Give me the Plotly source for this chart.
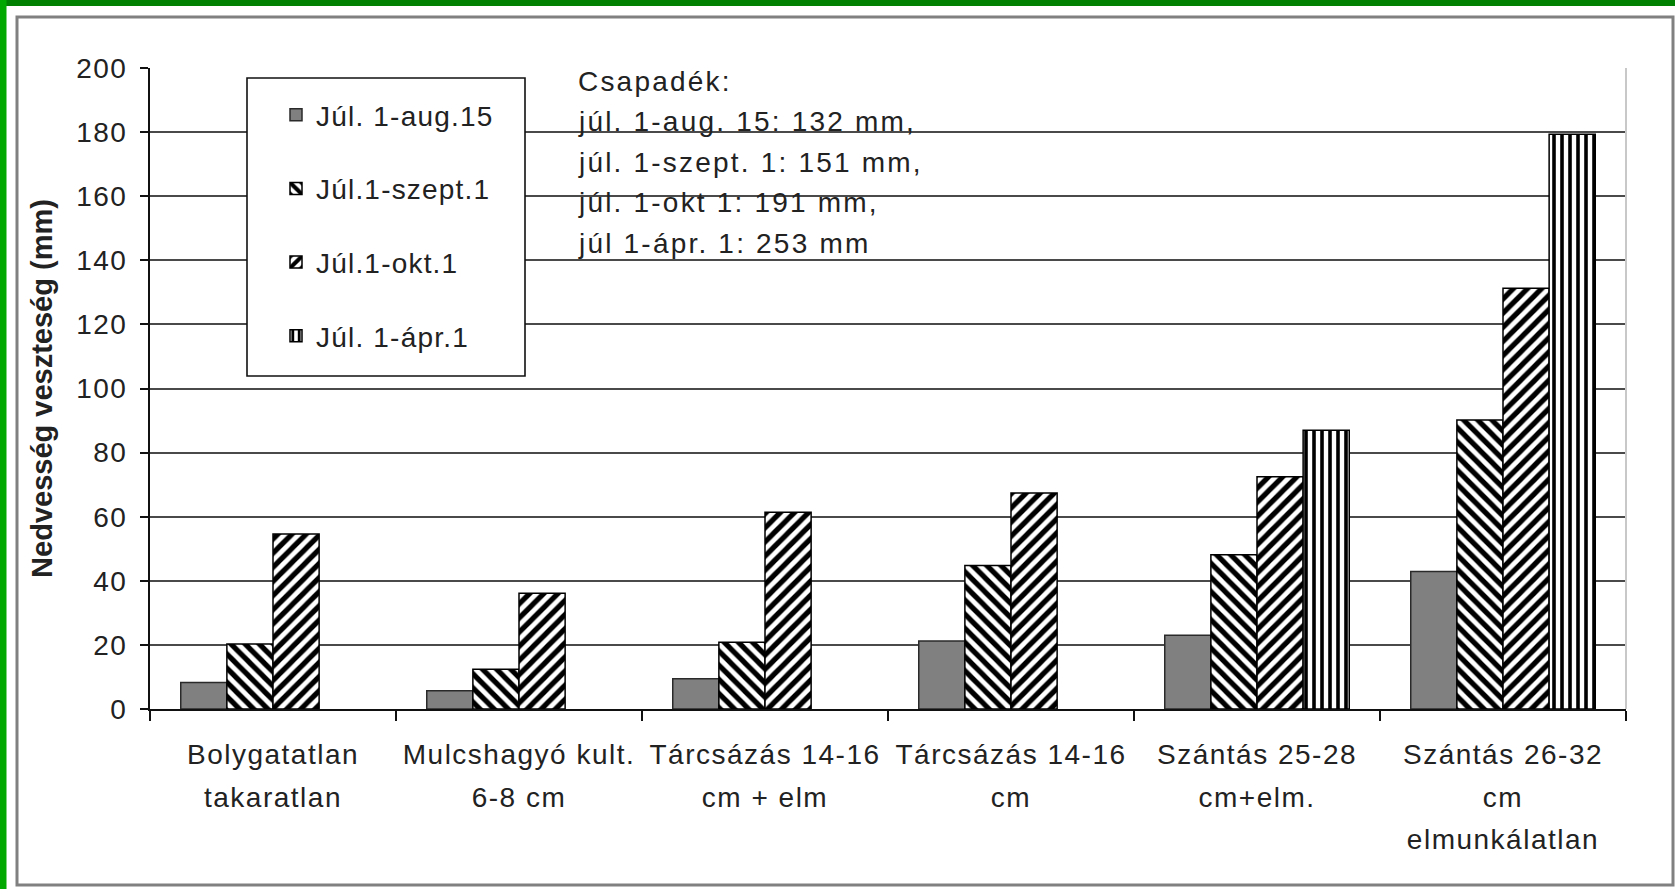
import plotly.graph_objects as go

# ---------------- data ----------------
categories = [
    "Bolygatatlan takaratlan",
    "Mulcshagyó kult. 6-8 cm",
    "Tárcsázás 14-16 cm + elm",
    "Tárcsázás 14-16 cm",
    "Szántás 25-28 cm+elm.",
    "Szántás 26-32 cm elmunkálatlan",
]
tick_label_lines = [
    ["Bolygatatlan", "takaratlan"],
    ["Mulcshagyó kult.", "6-8 cm"],
    ["Tárcsázás 14-16", "cm + elm"],
    ["Tárcsázás 14-16", "cm"],
    ["Szántás 25-28", "cm+elm."],
    ["Szántás 26-32", "cm", "elmunkálatlan"],
]
series_names = ["Júl. 1-aug.15", "Júl.1-szept.1", "Júl.1-okt.1", "Júl. 1-ápr.1"]
aug15 = [8.3, 5.7, 9.4, 21.2, 23.0, 42.9]
szept1 = [20.3, 12.4, 20.8, 44.8, 48.1, 90.2]
okt1 = [54.6, 36.1, 61.4, 67.4, 72.5, 131.3]
apr1 = [None, None, None, None, 87.0, 179.3]
y_ticks = [0, 20, 40, 60, 80, 100, 120, 140, 160, 180, 200]
y_title = "Nedvesség veszteség (mm)"
precip_lines = [
    "Csapadék:",
    "júl. 1-aug. 15: 132 mm,",
    "júl. 1-szept. 1: 151 mm,",
    "júl. 1-okt 1: 191 mm,",
    "júl 1-ápr. 1: 253 mm",
]

# ---------------- style ----------------
W, H = 1675, 889
ML, MR, MT, MB = 150, 49, 68, 180
PW, PH = W - ML - MR, H - MT - MB
FONT = "Liberation Sans, Arial, sans-serif"
TXT = "#222222"


def px_x(px):
    return (px - ML) / PW


def px_y(py):
    return (H - MB - py) / PH


def spaced(text, ls, size=None):
    st = "letter-spacing:%spx" % ls
    if size:
        st += ";font-size:%spx" % size
    return "<span style='%s'>%s</span>" % (st, text)


fig = go.Figure()
series_vals = [aug15, szept1, okt1, apr1]
for i, (name, vals) in enumerate(zip(series_names, series_vals)):
    if i == 0:
        marker = dict(color="#808080", line=dict(color="#2a2a2a", width=1.5))
    else:
        shape = ["\\", "/", "|"][i - 1]
        size = 8 if shape == "|" else 10
        sol = 0.45 if shape == "|" else 0.52
        marker = dict(
            color="white",
            line=dict(color="#000000", width=1.5),
            pattern=dict(shape=shape, fgcolor="#000000", bgcolor="#ffffff",
                         fgopacity=1, fillmode="replace",
                         size=size, solidity=sol),
        )
    fig.add_trace(go.Bar(x=categories, y=vals, name=spaced(name, 1.2), marker=marker,
                         legendgroup=name))

ticktext = ["<br>".join(spaced(l, 1.5, 28) for l in lines) for lines in tick_label_lines]
yticktext = [spaced(str(v), 1.5) for v in y_ticks]

fig.update_layout(
    width=W, height=H,
    margin=dict(l=ML, r=MR, t=MT, b=MB, pad=0),
    paper_bgcolor="white", plot_bgcolor="white",
    barmode="group", bargap=0.25, bargroupgap=0,
    font=dict(family=FONT, color=TXT, size=28),
    showlegend=True,
    legend=dict(
        x=px_x(246), y=px_y(90), xanchor="left", yanchor="top",
        borderwidth=0, bgcolor="rgba(0,0,0,0)",
        font=dict(size=28, color=TXT, family=FONT),
        tracegroupgap=34.3, indentation=30, traceorder="grouped",
    ),
    xaxis=dict(
        tickmode="array", tickvals=categories, ticktext=ticktext,
        tickfont=dict(size=33, color=TXT, family=FONT),
        tickson="boundaries", ticks="outside", ticklen=10, tickwidth=1.5,
        tickcolor="#111111",
        showline=True, linecolor="#111111", linewidth=2,
        showgrid=False, zeroline=False, ticklabelstandoff=13,
    ),
    yaxis=dict(
        range=[0, 200], tickmode="array", tickvals=y_ticks, ticktext=yticktext,
        tickfont=dict(size=28, color=TXT, family=FONT),
        ticks="outside", ticklen=8, tickwidth=1.5, tickcolor="#111111",
        showline=True, linecolor="#111111", linewidth=2,
        showgrid=True, gridcolor="#4a4a4a", gridwidth=2, zeroline=False,
        ticklabelstandoff=7,
        title=dict(text=y_title, font=dict(size=29, color=TXT, family=FONT, weight="bold"),
                   standoff=15),
    ),
)

# precipitation note
for k, line in enumerate(precip_lines):
    fig.add_annotation(text=spaced(line, 2.2), xref="paper", yref="paper",
                       x=px_x(576), y=px_y(81 + 40.6 * k), xanchor="left", yanchor="middle",
                       showarrow=False, font=dict(size=28, color=TXT, family=FONT))

# frame decorations
shapes = [
    dict(type="line", xref="paper", yref="paper", x0=1, x1=1, y0=0, y1=1,
         line=dict(color="#c8c8c8", width=2)),
    # legend box
    dict(type="rect", xref="paper", yref="paper", layer="above",
         x0=px_x(247), x1=px_x(525), y0=px_y(376), y1=px_y(78),
         fillcolor="white", line=dict(color="#111111", width=1.6)),
    dict(type="rect", xref="paper", yref="paper", x0=px_x(17), x1=px_x(1673),
         y0=px_y(885), y1=px_y(17), line=dict(color="#808080", width=3)),
    dict(type="rect", xref="paper", yref="paper", x0=px_x(0), x1=px_x(1675),
         y0=px_y(6), y1=px_y(0), fillcolor="#008000", line=dict(width=0)),
    dict(type="rect", xref="paper", yref="paper", x0=px_x(0), x1=px_x(6.5),
         y0=px_y(889), y1=px_y(0), fillcolor="#00a800", line=dict(width=0)),
]
fig.update_layout(shapes=shapes)

fig.write_html("out.html", config={"displayModeBar": False},
               post_script="document.body.style.margin='0';document.body.style.overflow='hidden';")
